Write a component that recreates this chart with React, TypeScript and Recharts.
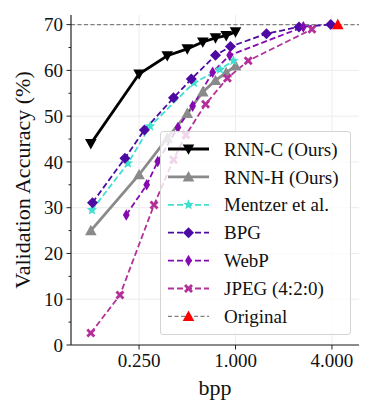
import {
  CartesianGrid,
  Legend,
  Line,
  LineChart,
  ReferenceArea,
  ReferenceLine,
  XAxis,
  YAxis,
} from 'recharts'

// bpp / validation accuracy
const RNN_C_BPP = [0.125, 0.25, 0.375, 0.5, 0.625, 0.75, 0.875, 1.0]
const RNN_C_ACC = [44.0, 59.2, 63.2, 64.7, 66.2, 67.1, 67.6, 68.4]

const RNN_H_BPP = [0.125, 0.25, 0.375, 0.5, 0.625, 0.75, 0.875, 1.0]
const RNN_H_ACC = [25.0, 37.2, 45.2, 50.6, 55.3, 57.8, 59.5, 61.0]

const MENTZER_BPP = [0.127, 0.213, 0.293, 0.55, 0.8, 0.97]
const MENTZER_ACC = [29.5, 39.7, 47.8, 57.3, 60.2, 62.1]

const BPG_BPP = [0.128, 0.204, 0.27, 0.41, 0.53, 0.75, 0.93, 1.56, 2.49, 3.93]
const BPG_ACC = [31.1, 40.8, 47.0, 54.0, 58.1, 63.3, 65.2, 68.0, 69.5, 70.0]

const WEBP_BPP = [0.208, 0.279, 0.327, 0.437, 0.54, 0.72, 0.92, 2.65]
const WEBP_ACC = [28.4, 35.0, 40.1, 47.5, 52.2, 59.6, 63.3, 69.5]

const JPEG_BPP = [0.125, 0.19, 0.31, 0.41, 0.49, 0.65, 0.89, 1.2, 3.0]
const JPEG_ACC = [2.6, 10.9, 30.6, 40.5, 45.9, 52.6, 58.3, 62.1, 69.0]

const ORIGINAL_BPP = [4.35]
const ORIGINAL_ACC = [70]

const X_TICKS = [0.25, 1, 4]
const Y_TICKS = [0, 5, 10, 15, 20, 25, 30, 35, 40, 45, 50, 55, 60, 65, 70]
const Y_GRID = [0, 10, 20, 30, 40, 50, 60, 70]

const FONT = "'Liberation Serif', 'Times New Roman', 'DejaVu Serif', serif"
const textStyle = { fontFamily: FONT }
const DASH = '6 3'

const pts = (xs: number[], ys: number[]) => xs.map((x, i) => ({ x, y: ys[i] }))

type Shape = 'triDown' | 'triUp' | 'star' | 'diamond' | 'thinDiamond' | 'xFilled'

function markerPath(shape: Shape, cx: number, cy: number): string {
  switch (shape) {
    case 'triDown':
      return `M${cx - 5.8},${cy - 4.6}L${cx + 5.8},${cy - 4.6}L${cx},${cy + 5.8}Z`
    case 'triUp':
      return `M${cx - 5.8},${cy + 4.6}L${cx + 5.8},${cy + 4.6}L${cx},${cy - 5.8}Z`
    case 'diamond':
      return `M${cx},${cy - 5.5}L${cx + 5.5},${cy}L${cx},${cy + 5.5}L${cx - 5.5},${cy}Z`
    case 'thinDiamond':
      return `M${cx},${cy - 5.8}L${cx + 3.4},${cy}L${cx},${cy + 5.8}L${cx - 3.4},${cy}Z`
    case 'star': {
      let d = ''
      for (let i = 0; i < 10; i++) {
        const r = i % 2 === 0 ? 5.5 : 2.4
        const a = -Math.PI / 2 + (i * Math.PI) / 5
        d += `${i === 0 ? 'M' : 'L'}${cx + r * Math.cos(a)},${cy + r * Math.sin(a)}`
      }
      return d + 'Z'
    }
    case 'xFilled': {
      const s = 4.5
      const t = 2
      return (
        `M${cx - s},${cy - s + t}L${cx - s + t},${cy - s}L${cx},${cy - t}L${cx + s - t},${cy - s}` +
        `L${cx + s},${cy - s + t}L${cx + t},${cy}L${cx + s},${cy + s - t}L${cx + s - t},${cy + s}` +
        `L${cx},${cy + t}L${cx - s + t},${cy + s}L${cx - s},${cy + s - t}L${cx - t},${cy}Z`
      )
    }
  }
}

interface Series {
  name: string
  data: { x: number; y: number }[]
  color: string
  marker: Shape
  width: number
  dash?: string
}

const SERIES: Series[] = [
  { name: 'RNN-C (Ours)', data: pts(RNN_C_BPP, RNN_C_ACC), color: '#000000', marker: 'triDown', width: 2.8 },
  { name: 'RNN-H (Ours)', data: pts(RNN_H_BPP, RNN_H_ACC), color: '#8a8a8a', marker: 'triUp', width: 2.8 },
  { name: 'Mentzer et al.', data: pts(MENTZER_BPP, MENTZER_ACC), color: '#40e0d0', marker: 'star', width: 1.8, dash: DASH },
  { name: 'BPG', data: pts(BPG_BPP, BPG_ACC), color: '#4c0aa3', marker: 'diamond', width: 1.8, dash: DASH },
  { name: 'WebP', data: pts(WEBP_BPP, WEBP_ACC), color: '#850bb0', marker: 'thinDiamond', width: 1.8, dash: DASH },
  { name: 'JPEG (4:2:0)', data: pts(JPEG_BPP, JPEG_ACC), color: '#b3309a', marker: 'xFilled', width: 1.8, dash: DASH },
]

const ORIGINAL_COLOR = '#ff0000'
const ORIGINAL_LINE = '#808080'

function YTick({ x, y, payload }: any) {
  const major = payload.value % 10 === 0
  return (
    <g>
      <line x1={x - (major ? 4.5 : 2.5)} x2={x} y1={y} y2={y} stroke="#222" strokeWidth={1} />
      {major && (
        <text x={x - 8} y={y} dy="0.35em" textAnchor="end" fontSize={19} fill="#111" style={textStyle}>
          {payload.value}
        </text>
      )}
    </g>
  )
}

function XTick({ x, y, payload }: any) {
  return (
    <g>
      <line x1={x} x2={x} y1={y} y2={y + 4.5} stroke="#222" strokeWidth={1} />
      <text x={x} y={y + 22} textAnchor="middle" fontSize={19} fill="#111" style={textStyle}>
        {payload.value.toFixed(3)}
      </text>
    </g>
  )
}

function LegendBox() {
  const rows = [
    ...SERIES.map((s) => ({ name: s.name, color: s.color, line: s.color, marker: s.marker, dash: s.dash, width: s.width })),
    { name: 'Original', color: ORIGINAL_COLOR, line: ORIGINAL_LINE, marker: 'triUp' as Shape, dash: '4 2.5', width: 1.2 },
  ]
  return (
    <svg width={191} height={204} style={{ display: 'block' }}>
      {rows.map((r, i) => {
        const cy = 17 + i * 27.9
        return (
          <g key={r.name}>
            <line x1={7} x2={48} y1={cy} y2={cy} stroke={r.line} strokeWidth={r.width} strokeDasharray={r.dash} />
            <path d={markerPath(r.marker, 27.5, cy)} fill={r.color} />
            <text x={63} y={cy} dy="0.35em" fontSize={19} fill="#111" style={textStyle}>
              {r.name}
            </text>
          </g>
        )
      })}
    </svg>
  )
}

export default function App() {
  return (
    <div style={{ width: 374, height: 414, background: '#fff', fontFamily: FONT }}>
      <style>{'body{margin:0}'}</style>
      <LineChart
        width={374}
        height={414}
        margin={{ top: 15, right: 15, bottom: 0, left: 0 }}
        style={{ fontFamily: FONT }}
      >
        <CartesianGrid stroke="#ececec" strokeWidth={1} horizontalValues={Y_GRID} verticalValues={X_TICKS} />
        <XAxis
          dataKey="x"
          type="number"
          scale="log"
          domain={[0.094, 5.9]}
          allowDataOverflow
          ticks={X_TICKS}
          tick={<XTick />}
          tickLine={false}
          tickSize={0}
          tickMargin={0}
          height={69}
          axisLine={{ stroke: '#222', strokeWidth: 1.2 }}
          label={({ viewBox }: any) => (
            <text
              x={viewBox.x + viewBox.width / 2}
              y={viewBox.y + 42}
              dy="0.35em"
              textAnchor="middle"
              fontSize={22}
              fill="#111"
              style={textStyle}
            >
              bpp
            </text>
          )}
        />
        <YAxis
          type="number"
          domain={[0, 72.1]}
          allowDataOverflow
          ticks={Y_TICKS}
          interval={0}
          tick={<YTick />}
          tickLine={false}
          tickSize={0}
          tickMargin={0}
          width={71}
          axisLine={{ stroke: '#222', strokeWidth: 1.2 }}
          label={({ viewBox }: any) => {
            const cx = viewBox.x + 22
            const cy = viewBox.y + viewBox.height / 2
            return (
              <text
                x={cx}
                y={cy}
                dy="0.35em"
                transform={`rotate(-90 ${cx} ${cy})`}
                textAnchor="middle"
                fontSize={22}
                fill="#111"
                style={textStyle}
              >
                Validation Accuracy (%)
              </text>
            )
          }}
        />
        <ReferenceLine y={ORIGINAL_ACC[0]} stroke={ORIGINAL_LINE} strokeWidth={1.1} strokeDasharray="4 2.5" />
        {SERIES.map((s) => (
          <Line
            key={s.name}
            data={s.data}
            dataKey="y"
            name={s.name}
            type="linear"
            stroke={s.color}
            strokeWidth={s.width}
            strokeDasharray={s.dash}
            activeDot={false}
            isAnimationActive={false}
            dot={(p: any) => <path key={`${s.name}-${p.index}`} d={markerPath(s.marker, p.cx, p.cy)} fill={s.color} />}
          />
        ))}
        <Line
          data={pts(ORIGINAL_BPP, ORIGINAL_ACC)}
          dataKey="y"
          name="Original"
          stroke="none"
          activeDot={false}
          isAnimationActive={false}
          dot={(p: any) => <path key={`orig-${p.index}`} d={markerPath('triUp', p.cx, p.cy)} fill={ORIGINAL_COLOR} />}
        />
        <ReferenceArea fill="none" stroke="#222" strokeWidth={1.2} ifOverflow="visible" />
        <Legend
          layout="vertical"
          align="center"
          verticalAlign="middle"
          content={<LegendBox />}
          wrapperStyle={{
            left: 160,
            top: 131,
            width: 191,
            height: 204,
            background: 'rgba(255,255,255,0.8)',
            border: '1px solid #d4d4d4',
            borderRadius: 3,
            boxSizing: 'border-box',
          }}
        />
      </LineChart>
    </div>
  )
}
